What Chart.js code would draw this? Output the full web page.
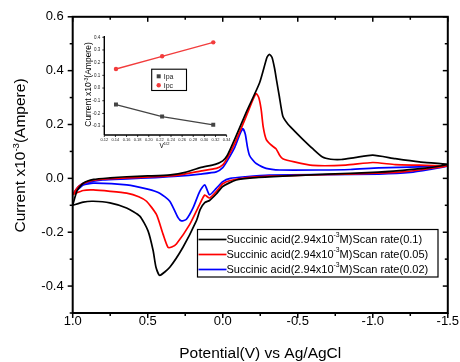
<!DOCTYPE html>
<html>
<head>
<meta charset="utf-8">
<script src="https://cdn.jsdelivr.net/npm/chart.js@4.4.0/dist/chart.umd.min.js"></script>
<style>
  body { margin: 0; background: #fff; }
  #wrap { position: relative; width: 460px; height: 362px; }
  #wrap canvas { position: absolute; left: 0; top: 0; }
</style>
</head>
<body>
<div id="wrap">
  <canvas id="main" width="460" height="362"></canvas>
  <canvas id="inset" width="460" height="362"></canvas>
</div>
<script>
const FONT = '"Liberation Sans", Arial, sans-serif';

// main CV curves: potential (V) and current (x10^-3 A), forward then reverse sweep
const potential01 = [1.00, 0.97, 0.93, 0.86, 0.75, 0.64, 0.50, 0.35, 0.25, 0.15, 0.05, 0.00, -0.03, -0.08, -0.16, -0.245, -0.295, -0.311, -0.328, -0.345, -0.36, -0.377, -0.40, -0.43, -0.466, -0.532, -0.60, -0.665, -0.72, -0.79, -0.88, -1.00, -1.15, -1.31, -1.50,
  -1.45, -1.35, -1.20, -1.00, -0.70, -0.40, -0.20, -0.09, 0.00, 0.043, 0.088, 0.12, 0.15, 0.176, 0.265, 0.353, 0.42, 0.445, 0.464, 0.498, 0.553, 0.641, 0.752, 0.863, 0.93, 1.00];
const current01 = [-0.100, -0.045, -0.018, -0.004, 0.002, 0.006, 0.009, 0.013, 0.022, 0.040, 0.052, 0.065, 0.085, 0.146, 0.250, 0.354, 0.450, 0.461, 0.450, 0.410, 0.360, 0.305, 0.232, 0.205, 0.183, 0.146, 0.110, 0.079, 0.071, 0.070, 0.077, 0.086, 0.073, 0.061, 0.052,
  0.046, 0.038, 0.030, 0.022, 0.016, 0.008, 0.002, -0.006, -0.030, -0.058, -0.082, -0.090, -0.115, -0.158, -0.256, -0.330, -0.360, -0.330, -0.268, -0.195, -0.140, -0.110, -0.091, -0.085, -0.088, -0.100];

const potential005 = [1.00, 0.96, 0.90, 0.80, 0.64, 0.45, 0.30, 0.15, 0.043, 0.00, -0.03, -0.08, -0.156, -0.20, -0.223, -0.24, -0.256, -0.27, -0.289, -0.32, -0.355, -0.38, -0.40, -0.477, -0.60, -0.82, -1.00, -1.15, -1.31, -1.50,
  -1.45, -1.31, -1.15, -0.82, -0.50, -0.31, -0.15, -0.05, 0.00, 0.043, 0.088, 0.12, 0.154, 0.22, 0.309, 0.34, 0.365, 0.398, 0.442, 0.508, 0.56, 0.64, 0.75, 0.863, 0.93, 1.00];
const current005 = [-0.060, -0.030, -0.012, -0.003, 0.002, 0.006, 0.012, 0.027, 0.037, 0.050, 0.075, 0.130, 0.230, 0.290, 0.315, 0.300, 0.256, 0.190, 0.146, 0.125, 0.110, 0.085, 0.073, 0.061, 0.048, 0.049, 0.059, 0.051, 0.049, 0.046,
  0.042, 0.031, 0.022, 0.016, 0.011, 0.008, 0.002, -0.008, -0.020, -0.049, -0.073, -0.062, -0.097, -0.171, -0.244, -0.255, -0.256, -0.207, -0.134, -0.085, -0.068, -0.055, -0.048, -0.043, -0.045, -0.060];

const potential002 = [1.00, 0.96, 0.93, 0.80, 0.64, 0.45, 0.30, 0.15, 0.043, 0.00, -0.03, -0.08, -0.115, -0.134, -0.15, -0.165, -0.178, -0.20, -0.223, -0.289, -0.38, -0.643, -0.85, -1.04, -1.31, -1.50,
  -1.40, -1.25, -1.04, -0.70, -0.31, -0.15, -0.05, 0.00, 0.043, 0.088, 0.12, 0.154, 0.198, 0.242, 0.276, 0.298, 0.353, 0.42, 0.50, 0.64, 0.863, 0.93, 1.00];
const current002 = [-0.060, -0.030, -0.018, -0.006, -0.002, 0.003, 0.008, 0.016, 0.024, 0.040, 0.065, 0.115, 0.165, 0.185, 0.165, 0.115, 0.086, 0.068, 0.055, 0.037, 0.031, 0.031, 0.033, 0.039, 0.043, 0.045,
  0.035, 0.022, 0.016, 0.014, 0.012, 0.006, 0.000, -0.012, -0.037, -0.061, -0.024, -0.049, -0.110, -0.152, -0.158, -0.146, -0.085, -0.055, -0.040, -0.024, -0.018, -0.025, -0.060];

const seriesLabels = [
  'Succinic acid(2.94x10^{-3}M)Scan rate(0.1)',
  'Succinic acid(2.94x10^{-3}M)Scan rate(0.05)',
  'Succinic acid(2.94x10^{-3}M)Scan rate(0.02)'
];
const seriesColors = ['#000000', '#ff0000', '#0000ff'];

const xTicks = [1.0, 0.5, 0.0, -0.5, -1.0, -1.5];
const xMinorTicks = [0.75, 0.25, -0.25, -0.75, -1.25];
const yTicks = [-0.4, -0.2, 0.0, 0.2, 0.4, 0.6];
const yMinorTicks = [-0.5, -0.3, -0.1, 0.1, 0.3, 0.5];
const xTitle = 'Potential(V) vs Ag/AgCl';
const yTitle = 'Current x10^{-3}(Ampere)';

// inset: peak currents against square root of scan rate
const sqrtRate = [0.141, 0.224, 0.316];
const ipa = [-0.13, -0.225, -0.29];
const ipc = [0.15, 0.25, 0.36];
const insetXTicks = [0.12, 0.14, 0.16, 0.18, 0.20, 0.22, 0.24, 0.26, 0.28, 0.30, 0.32, 0.34];
const insetYTicks = [-0.3, -0.2, -0.1, 0.0, 0.1, 0.2, 0.3, 0.4];
const insetXTitle = 'V^{1/2}';

function toPoints(xs, ys) {
  return xs.map((v, i) => ({ x: v, y: ys[i] }));
}

// "a^{b}c" -> parts, b as superscript
function richParts(str) {
  return str.split(/\^\{([^}]*)\}/).map((t, i) => ({ t: t, sup: i % 2 === 1 }));
}
function richWidth(ctx, str, size) {
  let w = 0;
  richParts(str).forEach(p => {
    ctx.font = (p.sup ? size * 0.62 : size) + 'px ' + FONT;
    w += ctx.measureText(p.t).width;
  });
  return w;
}
function drawRich(ctx, str, x, y, size) {
  let cx = x;
  richParts(str).forEach(p => {
    ctx.font = (p.sup ? size * 0.62 : size) + 'px ' + FONT;
    ctx.fillText(p.t, cx, p.sup ? y - size * 0.38 : y);
    cx += ctx.measureText(p.t).width;
  });
}

function line(ctx, x1, y1, x2, y2) {
  ctx.beginPath();
  ctx.moveTo(x1, y1);
  ctx.lineTo(x2, y2);
  ctx.stroke();
}

const mainFrame = {
  id: 'mainFrame',
  afterDraw(chart) {
    const { ctx, chartArea: a, scales: { x, y } } = chart;
    ctx.save();
    ctx.strokeStyle = '#000';
    ctx.fillStyle = '#000';
    ctx.lineWidth = 1.5;
    xTicks.concat(xMinorTicks).forEach(v => {
      const len = xTicks.includes(v) ? 5 : 3;
      const px = x.getPixelForValue(v);
      line(ctx, px, a.bottom, px, a.bottom + len);
      line(ctx, px, a.top, px, a.top + len);
    });
    yTicks.concat(yMinorTicks).forEach(v => {
      const len = yTicks.includes(v) ? 5 : 3;
      const py = y.getPixelForValue(v);
      line(ctx, a.left, py, a.left - len, py);
      line(ctx, a.right, py, a.right - len, py);
    });
    ctx.lineWidth = 2;
    ctx.strokeRect(a.left, a.top, a.width, a.height);

    // axis titles
    ctx.textBaseline = 'alphabetic';
    const xs = 15.5;
    const wx = richWidth(ctx, xTitle, xs);
    drawRich(ctx, xTitle, (a.left + a.right) / 2 - wx / 2, 358, xs);
    const ys = 15.5;
    const wy = richWidth(ctx, yTitle, ys);
    ctx.save();
    ctx.translate(24.5, 155.5);
    ctx.rotate(-Math.PI / 2);
    drawRich(ctx, yTitle, -wy / 2, 0, ys);
    ctx.restore();

    // legend box
    const lx = 197.5, ly = 229.5, lw = 240.5, lh = 47.5;
    ctx.fillStyle = '#fff';
    ctx.fillRect(lx, ly, lw, lh);
    ctx.lineWidth = 1.2;
    ctx.strokeStyle = '#000';
    ctx.strokeRect(lx, ly, lw, lh);
    chart.data.datasets.forEach((ds, i) => {
      const cy = 239.5 + i * 15;
      ctx.strokeStyle = ds.borderColor;
      ctx.lineWidth = 1.7;
      line(ctx, lx + 1, cy, lx + 29, cy);
      ctx.fillStyle = '#000';
      ctx.textBaseline = 'middle';
      drawRich(ctx, ds.label, lx + 29, cy, 11);
    });
    ctx.restore();
  }
};

new Chart(document.getElementById('main'), {
  type: 'scatter',
  data: {
    datasets: [
      { label: seriesLabels[0], data: toPoints(potential01, current01) },
      { label: seriesLabels[1], data: toPoints(potential005, current005) },
      { label: seriesLabels[2], data: toPoints(potential002, current002) }
    ].map((ds, i) => Object.assign(ds, {
      showLine: true,
      borderColor: seriesColors[i],
      borderWidth: 1.7,
      pointRadius: 0,
      tension: 0.2
    }))
  },
  options: {
    responsive: false,
    animation: false,
    layout: { padding: { left: 0, right: 11.5, top: 12.7, bottom: 0 } },
    plugins: { legend: { display: false }, tooltip: { enabled: false } },
    scales: {
      x: {
        type: 'linear',
        reverse: true,
        min: -1.5,
        max: 1.0,
        grid: { display: false, drawTicks: false },
        border: { display: false },
        afterBuildTicks: s => { s.ticks = xTicks.map(v => ({ value: v })); },
        afterFit: s => { s.height = 49; },
        ticks: {
          autoSkip: false,
          maxRotation: 0,
          padding: 1,
          color: '#000',
          font: { family: FONT, size: 13 },
          callback: v => v.toFixed(1)
        }
      },
      y: {
        type: 'linear',
        min: -0.5,
        max: 0.6,
        grid: { display: false, drawTicks: false },
        border: { display: false },
        afterBuildTicks: s => { s.ticks = yTicks.map(v => ({ value: v })); },
        afterFit: s => { s.width = 72.7; },
        ticks: {
          autoSkip: false,
          padding: 9,
          color: '#000',
          font: { family: FONT, size: 13 },
          callback: v => v.toFixed(1)
        }
      }
    }
  },
  plugins: [mainFrame]
});

const insetFrame = {
  id: 'insetFrame',
  afterDraw(chart) {
    const { ctx, chartArea: a, scales: { x, y } } = chart;
    ctx.save();
    ctx.strokeStyle = '#000';
    ctx.fillStyle = '#000';
    ctx.lineWidth = 0.8;
    insetXTicks.forEach(v => {
      const px = x.getPixelForValue(v);
      line(ctx, px, a.bottom, px, a.bottom + 2);
    });
    insetYTicks.forEach(v => {
      const py = y.getPixelForValue(v);
      line(ctx, a.left, py, a.left - 2, py);
    });
    ctx.lineWidth = 1.4;
    line(ctx, a.left, a.top, a.left, a.bottom);
    line(ctx, a.left, a.bottom, a.right, a.bottom);

    ctx.textBaseline = 'alphabetic';
    const tw = richWidth(ctx, insetXTitle, 6.5);
    drawRich(ctx, insetXTitle, (a.left + a.right) / 2 - tw / 2 - 1, 147.5, 6.5);
    const yw = richWidth(ctx, yTitle, 8.5);
    ctx.save();
    ctx.translate(91, 84.5);
    ctx.rotate(-Math.PI / 2);
    drawRich(ctx, yTitle, -yw / 2, 0, 8.5);
    ctx.restore();

    // inset legend
    const lx = 151.7, ly = 69.2, lw = 34.8, lh = 21.3;
    ctx.lineWidth = 1.1;
    ctx.strokeRect(lx, ly, lw, lh);
    chart.data.datasets.forEach((ds, i) => {
      const cy = 76.3 + i * 9;
      ctx.fillStyle = ds.pointBackgroundColor;
      if (ds.pointStyle === 'rect') {
        ctx.fillRect(lx + 5, cy - 2, 4, 4);
      } else {
        ctx.beginPath();
        ctx.arc(lx + 7, cy, 2.2, 0, Math.PI * 2);
        ctx.fill();
      }
      ctx.fillStyle = '#222';
      ctx.textBaseline = 'middle';
      ctx.font = '7px ' + FONT;
      ctx.fillText(ds.label, lx + 12, cy + 0.5);
    });
    ctx.restore();
  }
};

new Chart(document.getElementById('inset'), {
  type: 'scatter',
  data: {
    datasets: [
      {
        label: 'Ipa',
        data: toPoints(sqrtRate, ipa),
        showLine: true,
        borderColor: '#444444',
        borderWidth: 1.3,
        pointStyle: 'rect',
        pointRadius: 2.8,
        pointBackgroundColor: '#444444',
        pointBorderWidth: 0
      },
      {
        label: 'Ipc',
        data: toPoints(sqrtRate, ipc),
        showLine: true,
        borderColor: '#f23c3c',
        borderWidth: 1.3,
        pointStyle: 'circle',
        pointRadius: 2.2,
        pointBackgroundColor: '#f23c3c',
        pointBorderWidth: 0
      }
    ]
  },
  options: {
    responsive: false,
    animation: false,
    layout: { padding: { left: 84.3, right: 233.4, top: 36, bottom: 207 } },
    plugins: { legend: { display: false }, tooltip: { enabled: false } },
    scales: {
      x: {
        type: 'linear',
        min: 0.12,
        max: 0.34,
        grid: { display: false, drawTicks: false },
        border: { display: false },
        afterBuildTicks: s => { s.ticks = insetXTicks.map(v => ({ value: v })); },
        afterFit: s => { s.height = 20; },
        ticks: {
          autoSkip: false,
          maxRotation: 0,
          padding: 2,
          color: '#222',
          font: { family: FONT, size: 4 },
          callback: v => v.toFixed(2)
        }
      },
      y: {
        type: 'linear',
        min: -0.37,
        max: 0.41,
        grid: { display: false, drawTicks: false },
        border: { display: false },
        afterBuildTicks: s => { s.ticks = insetYTicks.map(v => ({ value: v })); },
        afterFit: s => { s.width = 20; },
        ticks: {
          autoSkip: false,
          padding: 4,
          color: '#222',
          font: { family: FONT, size: 4.5 },
          callback: v => v.toFixed(1)
        }
      }
    }
  },
  plugins: [insetFrame]
});
</script>
</body>
</html>
